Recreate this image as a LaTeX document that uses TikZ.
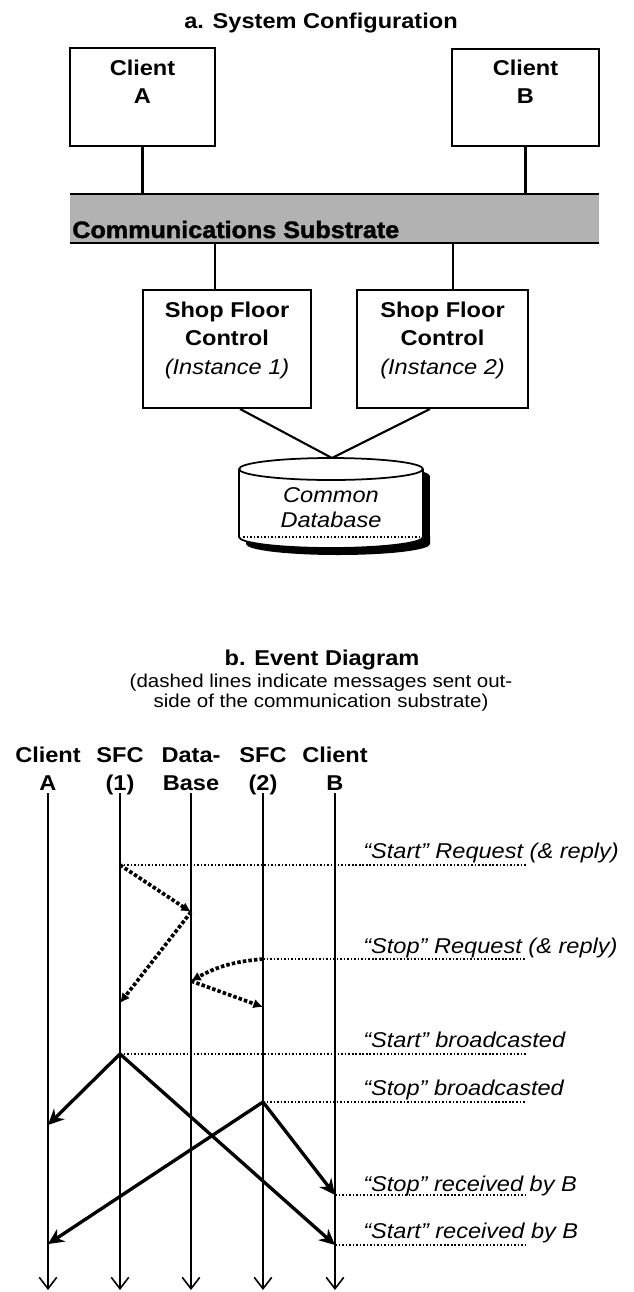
\documentclass[tikz,border=0pt]{standalone}
\usepackage{fontspec}
\setmainfont{Liberation Sans}[FakeStretch=1.1]
\newfontfamily\heavyfont{Liberation Sans}[FakeStretch=1.06,FakeBold=1.6]
\usetikzlibrary{arrows.meta,calc}

\def\rx{1.84cm}
\def\ry{0.22cm}
\def\cx{331}
\def\ctop{469}
\def\cbot{537}

\begin{document}
\begin{tikzpicture}[x=0.02cm,y=-0.02cm,>=latex,
  every node/.style={inner sep=0pt},
  txt/.style={font=\fontsize{12.2}{15.4}\selectfont,align=center,anchor=base},
  hd/.style={txt,font=\bfseries\fontsize{12.2}{15.4}\selectfont},
  box/.style={draw,line width=1.1pt},
  link/.style={line width=1.2pt},
  life/.style={line width=0.9pt,-{Straight Barb[length=6.5pt,width=10pt,line width=0.9pt]}},
  dots/.style={line width=0.8pt,dash pattern=on 0.9pt off 1.1pt},
  req/.style={line width=2.1pt,dash pattern=on 2pt off 1.2pt,-{Latex[length=5.5pt,width=5.5pt]}},
  bc/.style={line width=1.9pt,-{Stealth[length=9pt,width=8.5pt]}},
  msg/.style={font=\itshape\fontsize{12.2}{15.4}\selectfont,anchor=base west}]
\useasboundingbox (0,0) rectangle (633,1292);

% a. system configuration
\node[hd] (ta) at (321,28) {a. System Configuration};

\node[box,minimum width=2.9cm,minimum height=1.96cm] (cA) at (142.5,97) {};
\node[box,minimum width=2.94cm,minimum height=1.94cm] (cB) at (525.5,97.5) {};
\node[hd] (tA) at (142.5,103) {Client\\A};
\node[hd] (tB) at (525.5,103) {Client\\B};

\node[fill=black!30,minimum width=10.58cm,minimum height=0.98cm] (sub) at (334.5,218.5) {};
\draw[link] (sub.north west) -- (sub.north east);
\draw[link] (sub.south west) -- (sub.south east);
\node[anchor=base west,font=\heavyfont\bfseries\fontsize{13.5}{16}\selectfont] (tsub) at (72,238) {Communications Substrate};

\draw[link] (cA.south) -- (cA.south |- sub.north);
\draw[link] (cB.south) -- (cB.south |- sub.north);

\node[box,minimum width=3.36cm,minimum height=2.36cm] (sf1) at (227,349) {};
\node[box,minimum width=3.42cm,minimum height=2.36cm] (sf2) at (442.5,349) {};
\node[txt,font=\fontsize{12.2}{16}\selectfont] (t1) at (227,374) {\bfseries Shop Floor\\\bfseries Control\\\itshape (Instance 1)};
\node[txt,font=\fontsize{12.2}{16}\selectfont] (t2) at (442.5,374) {\bfseries Shop Floor\\\bfseries Control\\\itshape (Instance 2)};

\coordinate (l1) at ($(sf1.north)+(-12,0)$);
\coordinate (l2) at ($(sf2.north)+(10.5,0)$);
\draw[link] (l1) -- (l1 |- sub.south);
\draw[link] (l2) -- (l2 |- sub.south);

% database
\fill (\cx-92+7,\ctop+7) arc[start angle=180,end angle=0,x radius=\rx,y radius=\ry]
  -- (\cx+92+7,\cbot+7) arc[start angle=0,end angle=-180,x radius=\rx,y radius=\ry] -- cycle;
\draw[fill=white,line width=1pt] (\cx-92,\ctop) -- (\cx-92,\cbot)
  arc[start angle=180,end angle=360,x radius=\rx,y radius=\ry] -- (\cx+92,\ctop);
\draw[fill=white,line width=1pt] (\cx,\ctop) ellipse[x radius=\rx,y radius=\ry];
\draw[dots] (\cx-88,\cbot) -- (\cx+89,\cbot);
\node[txt,font=\itshape\fontsize{12.2}{13.7}\selectfont] (db) at (\cx,527) {Common\\Database};
\coordinate (dbtop) at (\cx+1,458);

\draw[link] ($(sf1.south)+(13,0)$) -- (dbtop);
\draw[link] ($(sf2.south)+(-12.5,0)$) -- (dbtop);

% b. event diagram
\node[hd] (tb) at (322,665) {b. Event Diagram};
\node[txt,font=\fontsize{10.6}{10.9}\selectfont] (nb) at (321,707)
  {(dashed lines indicate messages sent out-\\side of the communication substrate)};

\foreach \n/\x/\t in {A/48/{Client\\A},S1/120/{SFC\\(1)},D/191/{Data-\\Base},S2/263/{SFC\\(2)},B/335/{Client\\B}} {
  \node[hd] (h\n) at (\x,790) {\t};
  \coordinate (\n0) at (\x,793);
  \coordinate (\n1) at (\x,1290);
  \draw[life] (\n0) -- (\n1);
}
\coordinate (rt) at (526,0);

\coordinate (q1) at (120,865);
\coordinate (q1d) at (191,912);
\coordinate (q1r) at (120,1003);
\coordinate (q2) at (263,959);
\coordinate (q2d) at (191,981);
\coordinate (q2r) at (263,1007);
\coordinate (b1) at (120,1054);
\coordinate (b2) at (263,1102);
\coordinate (a1) at (48,1125);
\coordinate (a2) at (48,1244);
\coordinate (r2) at (335,1195);
\coordinate (r1) at (335,1245);

\draw[dots] (q1) -- (q1 -| rt);
\draw[dots] (q2) -- (q2 -| rt);
\draw[dots] (b1) -- (b1 -| rt);
\draw[dots] (b2) -- (b2 -| rt);
\draw[dots] (r2) -- (r2 -| rt);
\draw[dots] (r1) -- (r1 -| rt);

\draw[req] (q1) -- (q1d);
\draw[req] (q1d) -- (q1r);
\draw[req] (q2) to[bend right=12] (q2d);
\draw[req] (q2d) -- (q2r);

\draw[bc] (b1) -- (a1);
\draw[bc] (b1) -- (r1);
\draw[bc] (b2) -- (a2);
\draw[bc] (b2) -- (r2);

\node[msg] (m1) at (363,858) {“Start” Request (\& reply)};
\node[msg] (m2) at (363,953) {“Stop” Request (\& reply)};
\node[msg] (m3) at (363,1047) {“Start” broadcasted};
\node[msg] (m4) at (363,1095) {“Stop” broadcasted};
\node[msg] (m5) at (363,1191) {“Stop” received by B};
\node[msg] (m6) at (363,1238) {“Start” received by B};

\end{tikzpicture}
\end{document}
